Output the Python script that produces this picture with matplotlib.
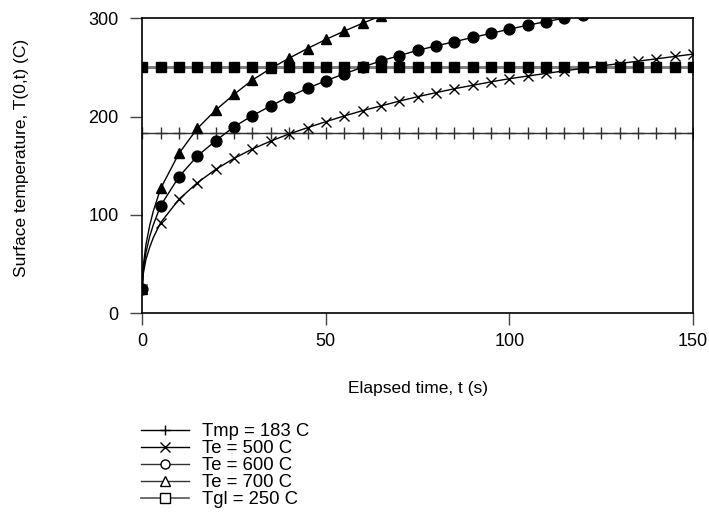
import numpy as np
import matplotlib.pyplot as plt
from matplotlib.lines import Line2D

plt.rcParams['font.family'] = ['Liberation Sans', 'DejaVu Sans']
plt.rcParams['font.size'] = 13

# constant reference temperatures
t_ref = np.arange(0, 155, 5)
Tmp = 183
Tgl = 250

# surface temperature curves
t_700 = [0, 0.25, 1, 2, 3, 5, 10, 15, 20, 25, 30, 35, 40, 45, 50, 55, 60, 65, 70]
T_700 = [25, 48, 70, 89, 104, 127, 162.7, 188, 206.7, 222.7, 237.3, 249, 259.5,
         269.3, 278.5, 287, 295, 302.5, 309.5]

t_600 = [0, 0.25, 1, 2, 3, 5, 10, 15, 20, 25, 30, 35, 40, 45, 50, 55, 60, 65, 70,
         75, 80, 85, 90, 95, 100, 105, 110, 115, 120, 125]
T_600 = [25, 44, 62, 78, 90, 109.5, 139, 160, 175.5, 189.8, 201, 211, 220.3, 228.8,
         236.5, 243.5, 250.3, 256.8, 262, 267.5, 271.9, 276.2, 280.6, 284.7, 289,
         293, 296.7, 300.2, 303.6, 307]

t_500 = [0, 0.25, 1, 2, 3, 5, 10, 15, 20, 25, 30, 35, 40, 45, 50, 55, 60, 65, 70,
         75, 80, 85, 90, 95, 100, 105, 110, 115, 120, 125, 130, 135, 140, 145, 150]
T_500 = [25, 40, 55, 67, 77, 92.2, 116, 132.8, 146.4, 157.6, 167.1, 175.2, 182.4,
         188.8, 194.9, 200.7, 206.1, 210.9, 215.8, 220.3, 224.4, 228.4, 231.9, 235.4,
         238.6, 241.3, 244, 246.6, 249.1, 251.6, 254, 256.4, 258.8, 261.2, 263.6]

labels = ['Tmp = 183 C', 'Te = 500 C', 'Te = 600 C', 'Te = 700 C', 'Tgl = 250 C']


def curve(ax, t, T, marker, ms):
    t = np.array(t)
    T = np.array(T)
    ax.plot(t, T, color='black', lw=1, zorder=3)
    sel = (t % 5) == 0
    ax.plot(t[sel], T[sel], ls='none', marker=marker, ms=ms, color='black', zorder=4)


fig = plt.figure(figsize=(7.09, 5.19), dpi=100)
ax = fig.add_axes([0.2007, 0.3963, 0.7767, 0.5684])

ax.plot(t_ref, np.full(len(t_ref), Tgl), color='#808080', lw=2.2,
        marker='s', ms=7.2, mfc='black', mec='black', zorder=2)
ax.plot(t_ref, np.full(len(t_ref), Tmp), color='#303030', lw=1,
        marker='+', ms=8, mew=1, zorder=2)

curve(ax, t_500, T_500, 'x', 7.2)
curve(ax, t_600, T_600, 'o', 7.8)
curve(ax, t_700, T_700, '^', 7.8)

ax.set_xlim(0, 150)
ax.set_ylim(0, 300)
ax.set_xticks([0, 50, 100, 150])
ax.set_yticks([0, 100, 200, 300])
ax.tick_params(direction='out', length=8.6, width=1, labelsize=13, color='#444444')
ax.tick_params(axis='x', pad=5.5)
ax.tick_params(axis='y', pad=8.5)
for s in ax.spines.values():
    s.set_linewidth(1.2)

fig.text(0.589, 1 - 388 / 519, 'Elapsed time, t (s)', ha='center', va='center',
         fontsize=12.5)
fig.text(22 / 709, 1 - 158 / 519, 'Surface temperature, T(0,t) (C)',
         rotation=90, ha='center', va='center', fontsize=12.5)

handles = [
    Line2D([], [], color='black', lw=1, marker='+', ms=7, mew=1),
    Line2D([], [], color='black', lw=1, marker='x', ms=6.5, mfc='white', mec='black'),
    Line2D([], [], color='#333333', lw=1, marker='o', ms=6.5, mfc='white', mec='black'),
    Line2D([], [], color='#333333', lw=1, marker='^', ms=6.5, mfc='white', mec='black'),
    Line2D([], [], color='#555555', lw=1.2, marker='s', ms=6.5, mfc='white', mec='black'),
]
fig.legend(handles, labels, loc='upper left',
           bbox_to_anchor=(141 / 709, 1 - 423 / 519), frameon=False,
           borderpad=0, borderaxespad=0, labelspacing=0.0,
           handlelength=2.6, handletextpad=0.7, fontsize=13.3)

fig.savefig('out.png', dpi=100)
